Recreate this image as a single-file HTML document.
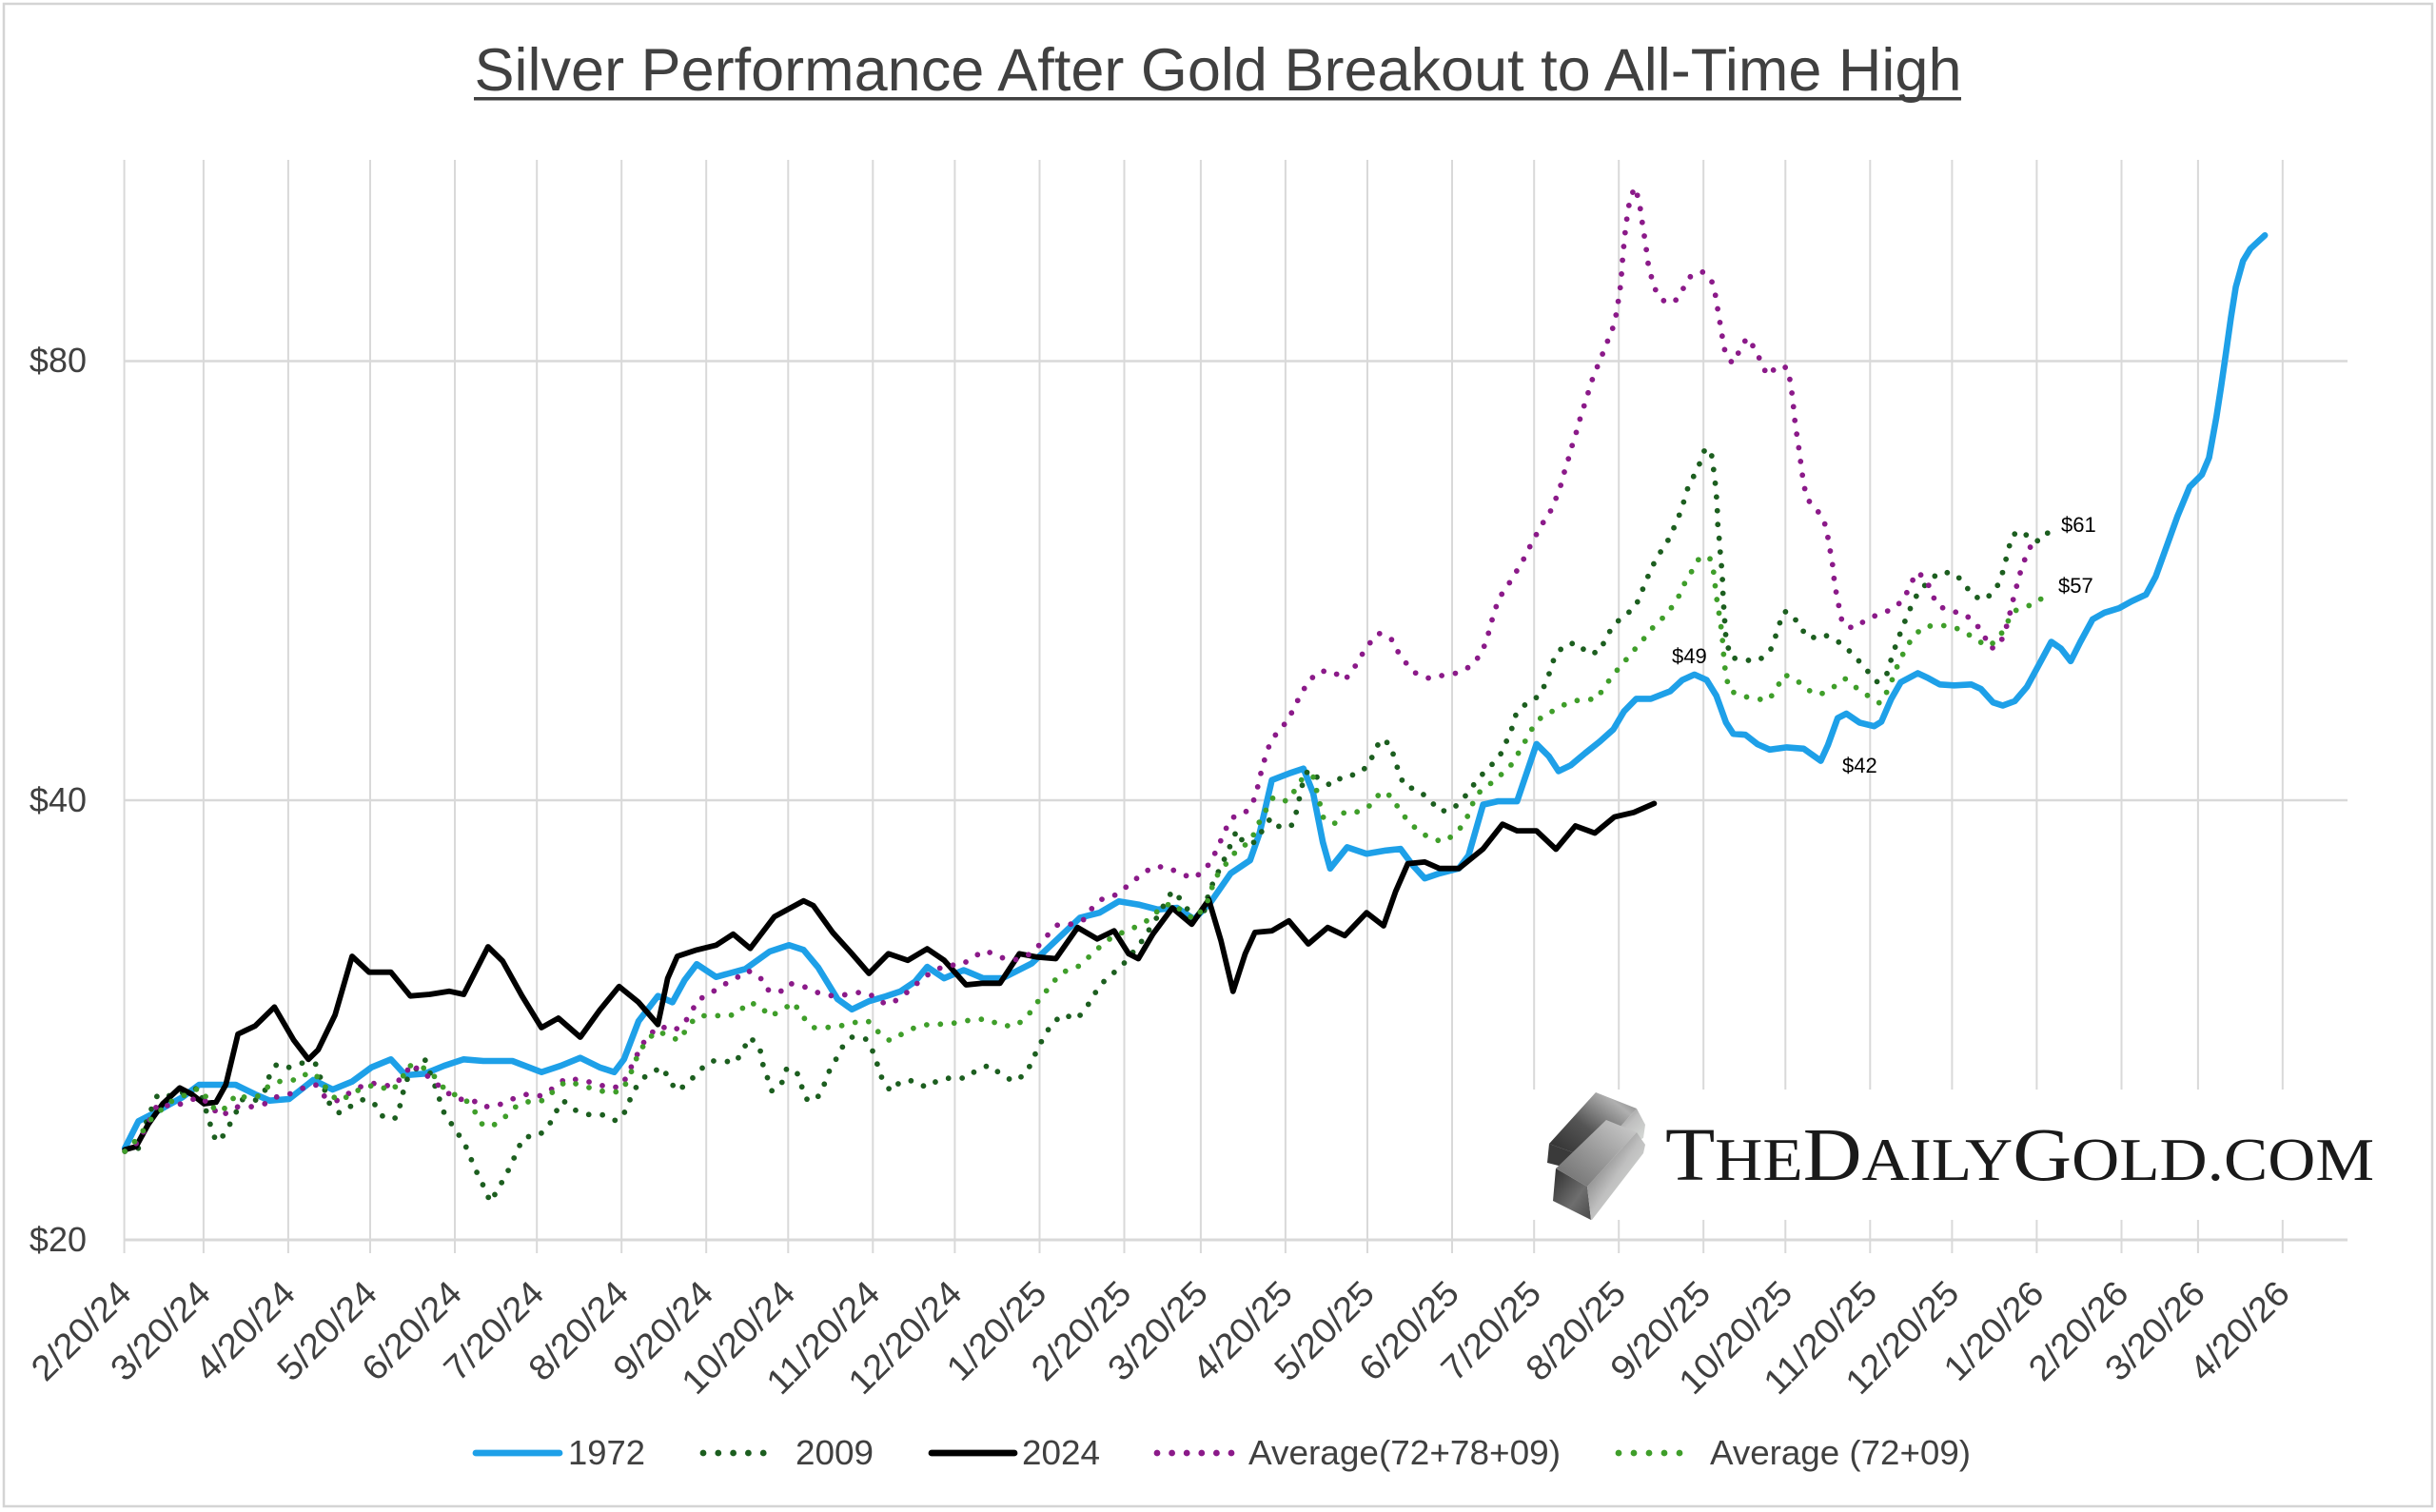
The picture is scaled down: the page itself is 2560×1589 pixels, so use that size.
<!DOCTYPE html>
<html>
<head>
<meta charset="utf-8">
<style>
html,body{margin:0;padding:0;background:#fff;}
svg{display:block;}
</style>
</head>
<body>
<svg width="2560" height="1589" viewBox="0 0 2560 1589" xmlns="http://www.w3.org/2000/svg">
<defs>
<linearGradient id="gTop1" x1="0" y1="1" x2="1" y2="0">
<stop offset="0" stop-color="#2a2a2a"/><stop offset="0.45" stop-color="#555"/><stop offset="0.8" stop-color="#b0b0b0"/><stop offset="1" stop-color="#777"/>
</linearGradient>
<linearGradient id="gTop2" x1="0" y1="1" x2="1" y2="0">
<stop offset="0" stop-color="#6a6a6a"/><stop offset="0.5" stop-color="#9a9a9a"/><stop offset="1" stop-color="#d0d0d0"/>
</linearGradient>
<linearGradient id="gFront" x1="0" y1="0" x2="1" y2="1">
<stop offset="0" stop-color="#2e2e2e"/><stop offset="0.6" stop-color="#6e6e6e"/><stop offset="1" stop-color="#4a4a4a"/>
</linearGradient>
<linearGradient id="gSide" x1="0" y1="0" x2="1" y2="1">
<stop offset="0" stop-color="#555"/><stop offset="0.5" stop-color="#bfbfbf"/><stop offset="1" stop-color="#e8eee8"/>
</linearGradient>
</defs>
<rect x="0" y="0" width="2560" height="1589" fill="#fff"/>
<rect x="4" y="4" width="2552" height="1579" fill="none" stroke="#d4d4d4" stroke-width="2.5"/>

<!-- Title -->
<text x="1280" y="95" text-anchor="middle" font-family="Liberation Sans, sans-serif" font-size="63" fill="#404040" textLength="1563" lengthAdjust="spacingAndGlyphs">Silver Performance After Gold Breakout to All-Time High</text>
<rect x="498" y="102" width="1563" height="3.5" fill="#404040"/>

<!-- Gridlines vertical -->
<g stroke="#d9d9d9" stroke-width="2">
<line x1="130.6" y1="168" x2="130.6" y2="1317"/>
<line x1="213.9" y1="168" x2="213.9" y2="1317"/>
<line x1="302.9" y1="168" x2="302.9" y2="1317"/>
<line x1="389.0" y1="168" x2="389.0" y2="1317"/>
<line x1="478.0" y1="168" x2="478.0" y2="1317"/>
<line x1="564.2" y1="168" x2="564.2" y2="1317"/>
<line x1="653.2" y1="168" x2="653.2" y2="1317"/>
<line x1="742.2" y1="168" x2="742.2" y2="1317"/>
<line x1="828.3" y1="168" x2="828.3" y2="1317"/>
<line x1="917.3" y1="168" x2="917.3" y2="1317"/>
<line x1="1003.4" y1="168" x2="1003.4" y2="1317"/>
<line x1="1092.5" y1="168" x2="1092.5" y2="1317"/>
<line x1="1181.5" y1="168" x2="1181.5" y2="1317"/>
<line x1="1261.9" y1="168" x2="1261.9" y2="1317"/>
<line x1="1350.9" y1="168" x2="1350.9" y2="1317"/>
<line x1="1437.0" y1="168" x2="1437.0" y2="1317"/>
<line x1="1526.0" y1="168" x2="1526.0" y2="1317"/>
<line x1="1612.2" y1="168" x2="1612.2" y2="1317"/>
<line x1="1701.2" y1="168" x2="1701.2" y2="1317"/>
<line x1="1790.2" y1="168" x2="1790.2" y2="1317"/>
<line x1="1876.3" y1="168" x2="1876.3" y2="1317"/>
<line x1="1965.3" y1="168" x2="1965.3" y2="1317"/>
<line x1="2051.4" y1="168" x2="2051.4" y2="1317"/>
<line x1="2140.4" y1="168" x2="2140.4" y2="1317"/>
<line x1="2229.5" y1="168" x2="2229.5" y2="1317"/>
<line x1="2309.9" y1="168" x2="2309.9" y2="1317"/>
<line x1="2398.8" y1="168" x2="2398.8" y2="1317"/>
</g>
<!-- Gridlines horizontal -->
<g stroke="#d9d9d9">
<line x1="130" y1="379.5" x2="2467" y2="379.5" stroke-width="2.5"/>
<line x1="130" y1="841" x2="2467" y2="841" stroke-width="2.5"/>
<line x1="130" y1="1303" x2="2467" y2="1303" stroke-width="3"/>
</g>

<!-- Y labels -->
<g font-family="Liberation Sans, sans-serif" font-size="36" fill="#404040" text-anchor="end">
<text x="91" y="391">$80</text>
<text x="91" y="853">$40</text>
<text x="91" y="1315">$20</text>
</g>

<!-- X labels -->
<g font-family="Liberation Sans, sans-serif" font-size="37" fill="#404040" text-anchor="end">
<text transform="translate(140.1,1361.5) rotate(-45)" textLength="130" lengthAdjust="spacingAndGlyphs">2/20/24</text>
<text transform="translate(223.4,1361.5) rotate(-45)" textLength="130" lengthAdjust="spacingAndGlyphs">3/20/24</text>
<text transform="translate(312.4,1361.5) rotate(-45)" textLength="130" lengthAdjust="spacingAndGlyphs">4/20/24</text>
<text transform="translate(398.5,1361.5) rotate(-45)" textLength="130" lengthAdjust="spacingAndGlyphs">5/20/24</text>
<text transform="translate(487.5,1361.5) rotate(-45)" textLength="130" lengthAdjust="spacingAndGlyphs">6/20/24</text>
<text transform="translate(573.7,1361.5) rotate(-45)" textLength="130" lengthAdjust="spacingAndGlyphs">7/20/24</text>
<text transform="translate(662.7,1361.5) rotate(-45)" textLength="130" lengthAdjust="spacingAndGlyphs">8/20/24</text>
<text transform="translate(751.7,1361.5) rotate(-45)" textLength="130" lengthAdjust="spacingAndGlyphs">9/20/24</text>
<text transform="translate(837.8,1361.5) rotate(-45)" textLength="150" lengthAdjust="spacingAndGlyphs">10/20/24</text>
<text transform="translate(926.8,1361.5) rotate(-45)" textLength="150" lengthAdjust="spacingAndGlyphs">11/20/24</text>
<text transform="translate(1012.9,1361.5) rotate(-45)" textLength="150" lengthAdjust="spacingAndGlyphs">12/20/24</text>
<text transform="translate(1102.0,1361.5) rotate(-45)" textLength="130" lengthAdjust="spacingAndGlyphs">1/20/25</text>
<text transform="translate(1191.0,1361.5) rotate(-45)" textLength="130" lengthAdjust="spacingAndGlyphs">2/20/25</text>
<text transform="translate(1271.4,1361.5) rotate(-45)" textLength="130" lengthAdjust="spacingAndGlyphs">3/20/25</text>
<text transform="translate(1360.4,1361.5) rotate(-45)" textLength="130" lengthAdjust="spacingAndGlyphs">4/20/25</text>
<text transform="translate(1446.5,1361.5) rotate(-45)" textLength="130" lengthAdjust="spacingAndGlyphs">5/20/25</text>
<text transform="translate(1535.5,1361.5) rotate(-45)" textLength="130" lengthAdjust="spacingAndGlyphs">6/20/25</text>
<text transform="translate(1621.7,1361.5) rotate(-45)" textLength="130" lengthAdjust="spacingAndGlyphs">7/20/25</text>
<text transform="translate(1710.7,1361.5) rotate(-45)" textLength="130" lengthAdjust="spacingAndGlyphs">8/20/25</text>
<text transform="translate(1799.7,1361.5) rotate(-45)" textLength="130" lengthAdjust="spacingAndGlyphs">9/20/25</text>
<text transform="translate(1885.8,1361.5) rotate(-45)" textLength="150" lengthAdjust="spacingAndGlyphs">10/20/25</text>
<text transform="translate(1974.8,1361.5) rotate(-45)" textLength="150" lengthAdjust="spacingAndGlyphs">11/20/25</text>
<text transform="translate(2060.9,1361.5) rotate(-45)" textLength="150" lengthAdjust="spacingAndGlyphs">12/20/25</text>
<text transform="translate(2149.9,1361.5) rotate(-45)" textLength="130" lengthAdjust="spacingAndGlyphs">1/20/26</text>
<text transform="translate(2239.0,1361.5) rotate(-45)" textLength="130" lengthAdjust="spacingAndGlyphs">2/20/26</text>
<text transform="translate(2319.4,1361.5) rotate(-45)" textLength="130" lengthAdjust="spacingAndGlyphs">3/20/26</text>
<text transform="translate(2408.3,1361.5) rotate(-45)" textLength="130" lengthAdjust="spacingAndGlyphs">4/20/26</text>
</g>

<!-- Logo background & logo -->
<rect x="1598" y="1145" width="872" height="137" fill="#fff"/>
<g>
<!-- back bar -->
<polygon points="1628,1202 1672,1218 1669,1233 1626,1222" fill="#3a3a3a"/>
<polygon points="1720,1165 1729,1182 1727,1196 1676,1220 1672,1218" fill="url(#gSide)"/>
<polygon points="1628,1202 1677,1148 1720,1165 1672,1218" fill="url(#gTop1)"/>
<!-- front bar -->
<polygon points="1635,1228 1668,1247 1672,1282 1632,1262" fill="url(#gFront)"/>
<polygon points="1668,1247 1720,1190 1729,1203 1727,1212 1673,1282 1672,1282" fill="url(#gSide)"/>
<polygon points="1635,1228 1688,1177 1720,1190 1668,1247" fill="url(#gTop2)"/>
</g>
<text x="1750" y="1240" font-family="Liberation Serif, serif" fill="#1a1a1a" textLength="745" lengthAdjust="spacingAndGlyphs"><tspan font-size="79">T</tspan><tspan font-size="64">HE</tspan><tspan font-size="79">D</tspan><tspan font-size="64">AILY</tspan><tspan font-size="79">G</tspan><tspan font-size="64">OLD.COM</tspan></text>

<!-- Series: 1972 blue -->
<polyline fill="none" stroke="#1ea0e8" stroke-width="6.6" stroke-linejoin="round" stroke-linecap="round" points="131.2,1206.7 145.5,1178.3 158.3,1171.7 176.1,1161.7 191.4,1153.3 209.3,1140 247.6,1140 268,1150 283.3,1156.7 303.7,1155 329.2,1135 349.6,1145 370,1136.7 390.4,1121.7 410.8,1113.3 426.1,1130 446.5,1128.3 466.9,1120 487.3,1113.3 507.8,1115 538.4,1115 569,1126.7 589.4,1120 609.8,1111.7 630.2,1121.7 645.5,1126.7 655.7,1113.3 671,1073.3 691.4,1046.7 706.7,1053.3 719.5,1030 732.2,1013.3 752.6,1026.7 783.3,1018.3 808.8,1000 829.2,993.3 844.5,998.3 859.8,1016.7 880.2,1050 895.3,1060.8 913.2,1052.2 931,1047 946.3,1041.9 961.6,1031.6 974.4,1016.1 992.2,1028.1 1012.7,1019.5 1033.1,1028.1 1053.5,1028.1 1084.1,1012.6 1109.6,988.5 1135.1,964.4 1155.5,959.2 1175.9,947.2 1196.3,950.6 1216.7,955.8 1237.1,954.1 1255,966.1 1272.9,947.2 1293.3,917.9 1313.7,904.1 1323.9,874.9 1336.6,819.8 1354.5,812.9 1369.8,807.7 1380,833.5 1390.2,885.2 1397.9,912.7 1415.7,890.4 1436.1,897.2 1456.5,893.8 1471.8,892.1 1484.6,909.3 1497.3,923.1 1512.7,917.9 1533.1,912.7 1543.3,899 1558.6,845.6 1573.9,842.1 1594.3,842.1 1614.7,781.9 1627.7,794.8 1637.9,810.4 1650.6,804.3 1665.9,791.5 1681.2,779.3 1695.5,766.5 1706.7,747.6 1719.5,734.4 1734.8,734.4 1755.2,726.4 1768,714.6 1780.7,708.9 1793.5,714.6 1803.7,731.1 1813.9,759.4 1821.5,771.2 1834.3,772.2 1847,782.1 1859.8,787.8 1877.7,785.4 1895.5,786.8 1913.4,799.6 1921,783 1931.2,754.7 1940.4,750 1954.2,759.4 1969.5,763.2 1977.1,758.5 1987.3,734.9 1997.5,717 2015.4,707.5 2025.6,712.2 2038.4,719.3 2053.7,720.3 2071.5,719.3 2081.7,724 2094.5,738.2 2104.7,741.5 2117.4,736.8 2130.2,721.7 2143,698.1 2155.7,674.5 2165.9,681.6 2176.1,694.8 2186.3,674.5 2199.1,650.9 2211.8,643.8 2227.1,639.1 2239.9,632 2255.2,624.9 2265.4,606 2278.2,570.6 2288.4,542.3 2301.1,511.6 2313.9,498.9 2321.5,481 2329.2,438.5 2334.3,405.4 2339.4,370 2344.5,333.7 2349.6,301.6 2357.2,274.2 2364.9,261.5 2375.1,252 2380.2,247.3"/>

<!-- Series: 2009 dark green dotted -->
<polyline fill="none" stroke="#1c5e1f" stroke-width="5.8" stroke-linejoin="round" stroke-linecap="round" stroke-dasharray="0 14.5" points="131.2,1210 145.5,1206.7 155.7,1173.3 165.9,1150 178.7,1151.7 191.4,1148.3 209.3,1143.3 216.9,1168.3 222,1185 227.1,1200 234.8,1193.3 242.4,1180 255.2,1155 268,1156.7 278.2,1146.7 283.3,1130 290.9,1118.3 303.7,1121.7 319,1116.7 331.7,1118.3 347,1161.7 357.2,1170 370,1161.7 382.8,1155 395.5,1161.7 403.2,1175 415.9,1175 421,1160 426.1,1136.7 431.2,1130 446.5,1113.3 456.7,1140 466.9,1170 477.1,1185 484.8,1196.7 492.4,1210 497.5,1225 505.2,1240 515.4,1263.3 523.1,1250 530.7,1236.7 538.4,1221.7 543.5,1208.3 551.1,1195 566.4,1193.3 576.6,1183.3 584.3,1168.3 591.9,1156.7 604.7,1166.7 620,1171.7 635.3,1171.7 648.1,1178.3 658.3,1166.7 663.4,1151.7 671,1138.3 681.2,1128.3 696.5,1121.7 704.2,1136.7 711.8,1146.7 724.6,1136.7 734.8,1125 747.5,1115 760.3,1115 773.1,1116.7 780.7,1103.3 788.4,1090 798.6,1101.7 801.1,1116.7 806.2,1131.7 811.3,1146.7 821.5,1138.3 826.6,1123.3 836.8,1125 841.9,1140 847.1,1155 857.2,1156.7 864.9,1143.3 870,1128.3 877.6,1115 885.3,1100.4 895.4,1090 909.6,1091.8 917.2,1104.9 922.3,1119.4 927.4,1134.9 936.1,1146.9 946.3,1136.6 960.1,1135.6 973.4,1142.8 986.6,1134.9 1000.9,1132.5 1015.2,1133.2 1026.4,1124.5 1039.7,1119.4 1051.9,1129 1065.2,1136.6 1077.4,1129 1084.6,1115.9 1090.2,1102.2 1097.9,1088.4 1105,1076.3 1117.2,1066 1131.5,1071.2 1141.7,1059.1 1148.9,1046.4 1158.1,1033.3 1169.8,1022.9 1181,1012.6 1192.2,998.8 1200.4,988.5 1209.1,974.7 1216.7,962.7 1224.4,948.9 1232,936.2 1241.2,945.5 1255,966.1 1264.2,962.7 1270.8,936.8 1276.9,923.1 1284.6,907.6 1290.7,893.8 1299.4,873.1 1307,885.9 1318.8,885.2 1326.4,873.1 1335.1,860 1345.3,869.7 1357,868 1362.1,854.2 1368.8,824.2 1374.4,809.4 1386.6,818.7 1398.9,825.6 1411.6,815.6 1425.9,813.9 1437.6,804.9 1444.3,790.5 1450.9,776.7 1460.6,781.9 1465.7,797.4 1469.8,811.1 1475.9,826 1489.7,830.1 1501.9,839.7 1512.7,852.5 1525.4,851.4 1537.6,839.7 1545.8,828.4 1556,815.6 1566.2,805.3 1576.4,793.9 1583.1,779.1 1589.2,764.6 1593.3,750.2 1604.5,738.8 1616.7,731.9 1625.1,717 1634.3,688.6 1645.5,676.8 1658.3,675.9 1668.5,687.2 1681.2,684.9 1687.3,671.2 1695,658 1705.7,647.6 1718,639.1 1724.1,624.9 1729.7,610.8 1735.8,596.6 1742.4,583.9 1751.6,570.6 1758.3,556.5 1764.4,542.3 1769.5,527.2 1774.1,511.6 1780.7,498.9 1785.8,488 1791.9,471.5 1798.1,473.9 1800.1,488 1802.1,503.1 1803.7,519.7 1804.7,535.2 1805.2,550.8 1806.7,565.9 1807.8,580.1 1809.3,596.6 1810.3,611.7 1810.8,627.3 1811.8,642.4 1812.9,658 1813.9,672.1 1819,691 1831.7,693.4 1847,694.8 1859.8,685.3 1864.9,672.1 1869.5,657 1875.1,642.4 1884.3,646.2 1890.4,658 1902.1,671.2 1915.9,666.5 1930.2,673.1 1942.4,683 1953.2,694.3 1963.4,706.1 1973.1,717 1982.8,708.5 1987.3,693.4 1992.4,677.8 1997.5,664.1 2002.7,650.9 2009.3,635.3 2016.4,621.6 2029.7,608.4 2038.4,601.3 2053.7,602.3 2064.4,613.1 2072.5,625.9 2085.3,630.6 2097,620.2 2103.2,606.5 2107.2,591.4 2110.8,576.8 2114.9,562.1 2125.1,557.9 2135.3,568.3 2145.5,568.3 2154.7,556.5"/>

<!-- Series: 2024 black -->
<polyline fill="none" stroke="#000" stroke-width="5.8" stroke-linejoin="round" stroke-linecap="round" points="131.2,1208.3 143,1205 155.7,1181.7 171,1160 188.9,1143.3 201.6,1150 214.4,1160 227.1,1158.3 237.3,1140 250.1,1086.7 268,1078.3 288.4,1058.3 308.8,1093.3 324.1,1113.3 334.3,1103.3 352.1,1066.7 370,1005 387.9,1021.7 410.8,1021.7 431.2,1046.7 451.6,1045 472,1041.7 487.3,1045 512.9,995 528.2,1010 548.6,1046.7 569,1080 586.8,1070 609.8,1090 630.2,1061.7 650.6,1036.7 671,1053.3 691.4,1076.7 701.6,1028.3 711.8,1005 732.2,998.3 752.6,993.3 770.5,981.7 788.4,996.7 813.9,963.3 844.5,946.7 854.7,951.7 875.1,980 895.3,1002.3 913.2,1023 933.6,1002.3 954,1009.2 974.4,997.1 992.2,1009.2 1015.2,1035 1033.1,1033.3 1050.9,1033.3 1071.3,1002.3 1089.2,1005.7 1109.6,1007.5 1132.5,974.7 1153,986.8 1170.8,978.2 1186.1,1002.3 1196.3,1007.5 1211.6,981.6 1232,954.1 1252.4,971.3 1270.3,945.5 1283.1,988.5 1295.8,1041.9 1308.6,1002.3 1318.8,979.9 1336.6,978.2 1354.5,967.8 1374.9,992 1395.3,974.7 1413.2,983.3 1436.1,959.2 1454,973 1466.7,936.8 1479.5,907.6 1497.3,905.9 1512.7,912.7 1533.1,912.7 1558.6,892.1 1579,866.2 1594.3,873.1 1614.7,873.1 1635.2,892.5 1655.6,868 1676,875.5 1696.5,858.6 1716.9,853.8 1738.4,844.4"/>

<!-- Series: Average(72+78+09) purple dotted -->
<polyline fill="none" stroke="#8b1a89" stroke-width="5.8" stroke-linejoin="round" stroke-linecap="round" stroke-dasharray="0 14.5" points="131.2,1210 145.5,1200 165.9,1160 183.8,1163.3 196.5,1156.7 211.8,1153.3 232.2,1173.3 247.6,1163.3 262.9,1163.3 278.2,1160 288.4,1153.3 303.7,1150 319,1143.3 331.7,1140 341.9,1153.3 354.7,1156.7 364.9,1150 382.8,1140 395.5,1138.3 410.8,1141.7 426.1,1130 431.2,1118.3 444,1126.7 456.7,1136.7 466.9,1146.7 482.2,1155 497.5,1156.7 507.8,1163.3 523.1,1161.7 538.4,1155 553.7,1150 569,1151.7 581.7,1143.3 594.5,1133.3 609.8,1135 625.1,1138.3 640.4,1143.3 653.2,1141.7 660.8,1126.7 673.6,1100 681.2,1088.3 694,1078.3 706.7,1083.3 716.9,1078.3 727.1,1063.3 732.2,1051.7 747.5,1043.3 760.3,1035 773.1,1028.3 785.8,1020 798.6,1026.7 806.2,1040 819,1043.3 829.2,1033.3 844.5,1036.7 859.8,1043.3 875.1,1046.7 890.3,1045.2 905.6,1042.5 918.4,1047 931,1055.7 943.8,1050.5 956.5,1040.2 967.8,1029.8 979.5,1021.2 994.8,1014.3 1010.1,1014.3 1022.9,1005.7 1035.6,998.8 1049.9,1005.7 1064.7,1009.2 1078,1005.7 1090.2,995.4 1100.4,983.3 1112.1,971.3 1124.9,971.3 1137.7,967.8 1147.9,954.1 1159.6,943.7 1173.4,940.3 1186.1,930 1198.9,919.6 1211.6,911 1225.9,911 1240.2,917.9 1254,923.1 1266.2,914.5 1274.4,901.7 1281.5,886.9 1287.1,873.1 1294.8,859.4 1308.6,854.2 1317.8,840.4 1321.8,826.6 1325.4,811.1 1329.5,796.3 1334.6,781.2 1342.8,768.8 1353.5,757.1 1360.1,743.3 1367.2,729.5 1374.9,716.4 1386.1,705.4 1400.4,705.4 1413.2,714.7 1422.3,703.3 1430,689.9 1438.7,676.8 1448.9,665.5 1461.6,670.6 1468.3,683.7 1477.4,696.5 1488.2,707.8 1502.4,713 1517.2,709.5 1532.6,707.1 1545.8,699.9 1556,687.8 1562.2,673.4 1566.2,657.9 1570.3,643.4 1575.4,628.6 1586.6,612 1600,590 1610,570 1620,551.8 1629.2,537.6 1635.3,523.4 1640.4,509.3 1644.5,494.2 1649.1,479.5 1653.2,464.4 1658.3,448.9 1661.8,434.7 1666.9,420.5 1671,405.4 1676.1,391.3 1682.2,377.1 1687.9,362 1694,347.9 1698.1,332.3 1700.6,316.7 1702.7,302.5 1704.2,286.5 1705.2,271.9 1706.7,255.8 1708.3,240.2 1710.3,225.1 1712.9,209.6 1718,196.8 1722.6,211 1727.1,242.6 1729.7,257.7 1731.2,273.3 1734.8,288.4 1738.4,302.5 1747.6,315.8 1759.3,318.1 1768,304.9 1775.6,291.2 1788.4,285.1 1798.6,294.5 1802.7,310.1 1805.2,325.2 1807.8,340.8 1810.3,355.9 1812.9,370 1820.5,381.8 1828.2,368.6 1835.8,354.9 1844.5,366.7 1850.6,380.4 1857.2,394.6 1869,384.2 1878.2,386.6 1881.7,402.1 1883.8,418.2 1885.3,432.8 1886.8,447.9 1889.4,463.5 1891.4,478.6 1893.5,494.2 1895.5,509.3 1899.6,524.9 1909.8,536.2 1917.4,549.4 1921,565 1923.6,580.1 1926.1,595.2 1927.7,610.8 1930.2,625.9 1936.3,655.6 1947.5,660.3 1960.8,651.8 1974.6,645.2 1988.4,640.5 2000.6,630.1 2006.7,616.4 2014.4,601.3 2024.6,608.4 2029.2,622.6 2036.8,636.7 2050.1,642.4 2063.9,644.7 2076.6,655.6 2084.8,667.4 2091.9,681.6 2101.1,678.3 2107.2,663.6 2111.3,648.5 2114.9,633 2122.5,603.7 2127.6,588.6 2134.3,573.5"/>

<!-- Series: Average (72+09) light green dotted -->
<polyline fill="none" stroke="#3f9e2a" stroke-width="5.8" stroke-linejoin="round" stroke-linecap="round" stroke-dasharray="0 14.5" points="131.2,1210 143,1198.3 151.6,1186.7 160.8,1173.3 181.2,1156.7 196.5,1150 209.3,1143.3 219.5,1156.7 227.1,1168.3 239.9,1163.3 247.6,1150 257.8,1153.3 273.1,1151.7 283.3,1140 298.6,1135 313.9,1135 324.1,1126.7 336.8,1133.3 344.5,1146.7 354.7,1156.7 367.4,1151.7 380.2,1143.3 395.5,1140 410.8,1146.7 421,1136.7 428.7,1120 441.4,1120 454.2,1128.3 464.4,1141.7 477.1,1150 492.4,1158.3 500.1,1170 507.8,1183.3 520.5,1181.7 533.3,1171.7 543.5,1161.7 558.8,1156.7 571.5,1156.7 581.7,1146.7 594.5,1136.7 609.8,1140 625.1,1145 640.4,1148.3 653.2,1146.7 660.8,1133.3 671,1106.7 681.2,1091.7 691.4,1083.3 704.2,1090 714.4,1093.3 722,1080 732.2,1068.3 747.5,1066.7 762.9,1068.3 775.6,1065 785.8,1053.3 798.6,1056.7 808.8,1068.3 821.5,1061.7 834.3,1053.3 841.9,1066.7 854.7,1080 867.4,1080 882.7,1078.3 897.9,1074.6 912.1,1072.9 923.4,1084.9 935.1,1093.6 947.9,1086.7 961.6,1079.8 976.9,1076.3 992.2,1076.3 1007.6,1074.6 1022.9,1071.2 1038.2,1071.2 1052.4,1078 1067.8,1078 1080,1067.7 1088.2,1055.7 1097.9,1043.6 1107,1031.6 1118.3,1021.2 1132.5,1016.1 1144.3,1005.7 1155.5,995.4 1168.3,985.1 1183.6,978.2 1196.3,973 1210.6,964.4 1219.3,954.1 1232,948.9 1242.2,957.5 1255,966.1 1267.8,950.6 1276.9,923.1 1284.6,912.7 1300.9,892.1 1313.7,885.2 1323.9,862.8 1338.2,837.7 1352.5,842.1 1361.6,829.4 1369.8,816.3 1380,816.3 1391.2,861.1 1403,865.2 1413.2,853.2 1428.5,853.2 1441.2,845.6 1451.4,831.8 1462.6,837 1470.3,850.7 1480.5,863.8 1490.7,873.1 1504,881.7 1517.8,884.5 1531,874.9 1540.7,862.1 1545.8,848 1553.5,833.5 1564.7,824.9 1575.9,815.6 1587.7,804.3 1595.8,791.2 1603.5,777.7 1611.1,764 1620.8,752.6 1635.1,745.7 1648.1,738.2 1663.4,734.9 1677.7,734.9 1686.3,721.7 1695.5,708.9 1705.7,697.1 1715.4,685.3 1726.1,673.1 1735.3,661.3 1746,650.9 1756.2,639.1 1764.4,626.3 1771,611.7 1778.7,599 1786.8,584.8 1797,587.2 1801.1,602.3 1802.7,617.8 1804.7,633.4 1807.2,648.5 1809.3,663.6 1810.8,679.2 1811.8,694.8 1813.9,709.9 1817.4,725.5 1829.2,731.1 1844.5,734.4 1858.8,735.8 1867.4,722.6 1875.1,708.9 1887.9,714.6 1899.6,725 1912.3,730.2 1926.1,722.6 1938.9,713.2 1950.6,722.6 1962.9,731.1 1975.6,739.1 1984.8,724 1995,697.1 2003.2,680.6 2010.3,669.8 2021,658.9 2035.3,657 2050.1,658 2064.4,663.6 2077.6,673.1 2090.4,679.2 2101.1,669.8 2108.8,655.6 2115.9,642.4 2129.2,637.7 2143,632 2152.2,618.8"/>

<!-- Data labels -->
<g font-family="Liberation Sans, sans-serif" font-size="22" fill="#000">
<text x="2166" y="559">$61</text>
<text x="2163" y="623">$57</text>
<text x="1757" y="697">$49</text>
<text x="1936" y="812">$42</text>
</g>

<!-- Legend -->
<g font-family="Liberation Sans, sans-serif" font-size="36" fill="#404040">
<line x1="500" y1="1527" x2="588" y2="1527" stroke="#1ea0e8" stroke-width="6.8" stroke-linecap="round"/>
<text x="597" y="1539" textLength="81" lengthAdjust="spacingAndGlyphs">1972</text>
<line x1="739" y1="1527" x2="818" y2="1527" stroke="#1c5e1f" stroke-width="6.8" stroke-linecap="round" stroke-dasharray="0 15.8"/>
<text x="836" y="1539" textLength="82" lengthAdjust="spacingAndGlyphs">2009</text>
<line x1="979" y1="1527" x2="1066" y2="1527" stroke="#000" stroke-width="6.8" stroke-linecap="round"/>
<text x="1074" y="1539" textLength="82" lengthAdjust="spacingAndGlyphs">2024</text>
<line x1="1216" y1="1527" x2="1294" y2="1527" stroke="#8b1a89" stroke-width="6.8" stroke-linecap="round" stroke-dasharray="0 15.6"/>
<text x="1312" y="1539" textLength="328" lengthAdjust="spacingAndGlyphs">Average(72+78+09)</text>
<line x1="1701" y1="1527" x2="1781" y2="1527" stroke="#3f9e2a" stroke-width="6.8" stroke-linecap="round" stroke-dasharray="0 16"/>
<text x="1797" y="1539" textLength="274" lengthAdjust="spacingAndGlyphs">Average (72+09)</text>
</g>
</svg>
</body>
</html>
